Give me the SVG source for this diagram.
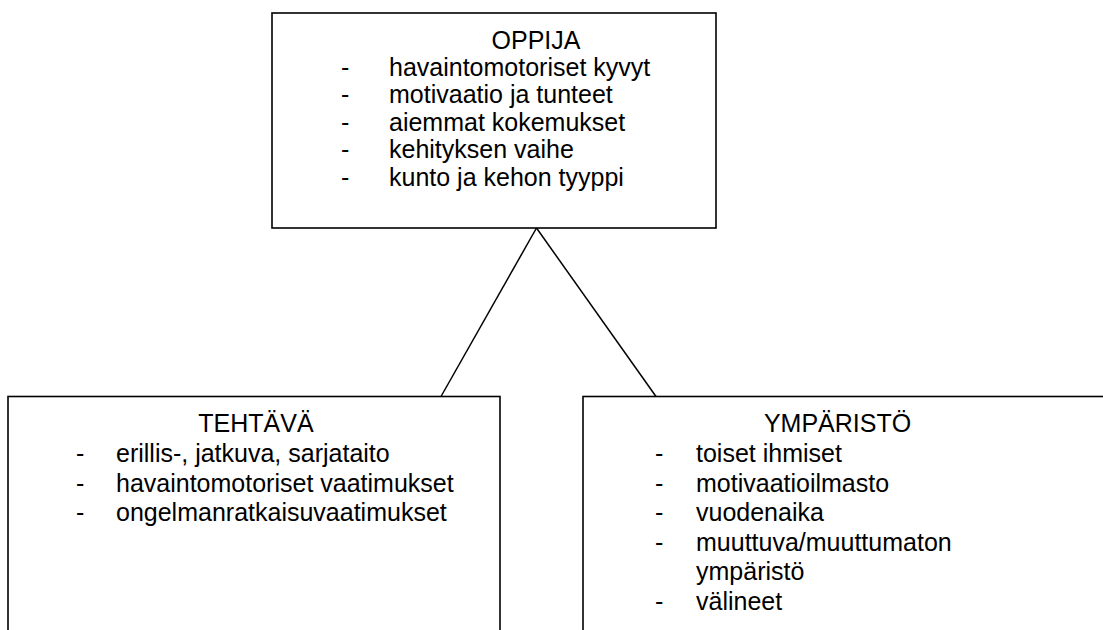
<svg xmlns="http://www.w3.org/2000/svg" width="1103" height="630" viewBox="0 0 1103 630">
<style>
.box{fill:#fff;stroke:#000;stroke-width:1.6}
.t{font-family:"Liberation Sans",Arial,sans-serif;font-size:25px;fill:#000}
.c{text-anchor:middle}
.conn{stroke:#000;stroke-width:1.5;fill:none}
</style>
<rect width="1103" height="630" fill="#fff"/>
<g id="connectors">
<line class="conn" x1="536.5" y1="228" x2="441" y2="396.5"/>
<line class="conn" x1="536.5" y1="228" x2="656" y2="396.5"/>
</g>
<g id="oppija">
<rect class="box" x="272" y="13" width="444" height="215"/>
<text class="t c" x="536" y="49">OPPIJA</text>
<text class="t" x="341" y="75.5">-</text><text class="t" x="389" y="75.5">havaintomotoriset kyvyt</text>
<text class="t" x="341" y="103">-</text><text class="t" x="389" y="103">motivaatio ja tunteet</text>
<text class="t" x="341" y="130.5">-</text><text class="t" x="389" y="130.5">aiemmat kokemukset</text>
<text class="t" x="341" y="158">-</text><text class="t" x="389" y="158">kehityksen vaihe</text>
<text class="t" x="341" y="185.5">-</text><text class="t" x="389" y="185.5">kunto ja kehon tyyppi</text>
</g>
<g id="tehtava">
<rect class="box" x="8" y="396.5" width="492" height="260"/>
<text class="t c" x="256" y="432">TEHTÄVÄ</text>
<text class="t" x="76" y="462">-</text><text class="t" x="116" y="462">erillis-, jatkuva, sarjataito</text>
<text class="t" x="76" y="491.5">-</text><text class="t" x="116" y="491.5">havaintomotoriset vaatimukset</text>
<text class="t" x="76" y="521">-</text><text class="t" x="116" y="521">ongelmanratkaisuvaatimukset</text>
</g>
<g id="ymparisto">
<rect class="box" x="583" y="396.5" width="560" height="260"/>
<text class="t c" x="837.5" y="432">YMPÄRISTÖ</text>
<text class="t" x="655" y="462">-</text><text class="t" x="696" y="462">toiset ihmiset</text>
<text class="t" x="655" y="491.5">-</text><text class="t" x="696" y="491.5">motivaatioilmasto</text>
<text class="t" x="655" y="521">-</text><text class="t" x="696" y="521">vuodenaika</text>
<text class="t" x="655" y="550.5">-</text><text class="t" x="696" y="550.5">muuttuva/muuttumaton</text>
<text class="t" x="696" y="580">ympäristö</text>
<text class="t" x="655" y="609.5">-</text><text class="t" x="696" y="609.5">välineet</text>
</g>
</svg>
